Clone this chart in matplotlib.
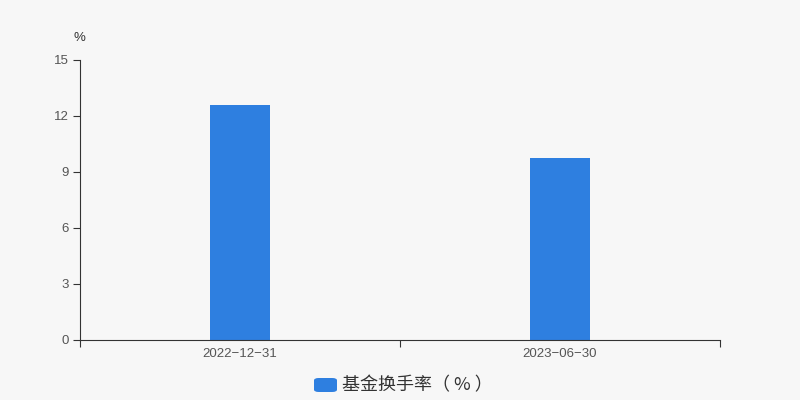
import matplotlib.pyplot as plt
from matplotlib.patches import FancyBboxPatch

plt.rcParams['font.family'] = ['Noto Sans CJK SC', 'DejaVu Sans']

dates = ['2022-12-31', '2023-06-30']
turnover = [12.59, 9.75]
yticks = [0, 3, 6, 9, 12, 15]

BG = '#f7f7f7'
BLUE = '#2e7fe0'
NUM_FONT = ['Liberation Sans', 'DejaVu Sans']

fig = plt.figure(figsize=(8, 4), dpi=100, facecolor=BG)
ax = fig.add_axes([0.1, 0.15, 0.8, 0.7], facecolor=BG)

x = list(range(len(dates)))
ax.bar(x, turnover, width=60 / 320, color=BLUE, zorder=2)

ax.set_xlim(-0.5, len(dates) - 0.5)
ax.set_ylim(0, 15)
ax.set_yticks(yticks)
ax.set_yticklabels([str(v) for v in yticks], fontsize=9.5, color='#555555', family=NUM_FONT)

# category ticks sit between the categories, labels at centres
ax.set_xticks([i - 0.5 for i in range(len(dates) + 1)])
ax.set_xticklabels([''] * (len(dates) + 1))
ax.set_xticks(x, minor=True)
ax.set_xticklabels([d.replace('-', '\u2212') for d in dates], minor=True,
                   fontsize=9.5, color='#555555', family=NUM_FONT)
ax.tick_params(axis='x', which='minor', length=0, pad=6)
ax.tick_params(axis='x', which='major', length=5, color='#333333')
ax.tick_params(axis='y', length=5, color='#333333', pad=3)

for side in ['top', 'right']:
    ax.spines[side].set_visible(False)
ax.spines['left'].set_color('#333333')
ax.spines['bottom'].set_color('#333333')

fig.text(0.1 - 0.001, 0.905, '%', fontsize=9.5, color='#333333', ha='center', va='center',
         family=NUM_FONT)

# legend
patch = FancyBboxPatch((314 / 800, (400 - 392) / 400), 23 / 800, 14 / 400,
                       boxstyle='round,pad=0,rounding_size=0.006',
                       transform=fig.transFigure, facecolor=BLUE, edgecolor='none')
fig.patches.append(patch)
fig.text(342 / 800, (400 - 385) / 400, '基金换手率（ % ）', fontsize=13, color='#333333',
         ha='left', va='center')

fig.savefig('out.png', dpi=100, facecolor=BG)
